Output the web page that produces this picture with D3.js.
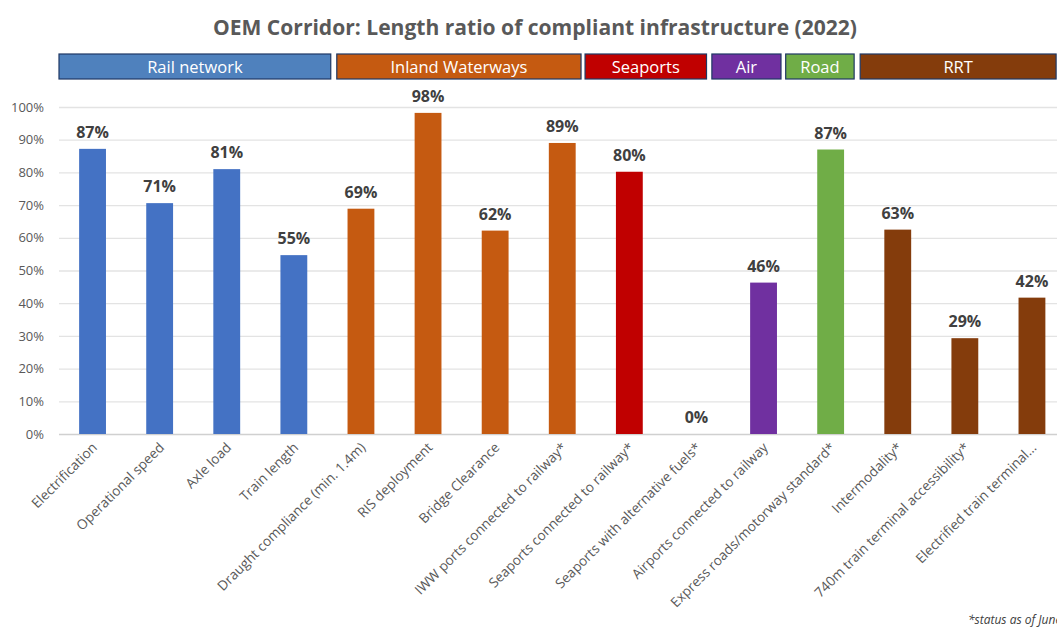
<!DOCTYPE html>
<html>
<head>
<meta charset="utf-8">
<script src="https://cdn.jsdelivr.net/npm/d3@7"></script>
<style>
  body { margin: 0; background: #fff; overflow: hidden; }
  text { font-family: "Open Sans", "Noto Sans", sans-serif; }
</style>
</head>
<body>
<div id="chart"></div>
<script>
// Data
var categories = ["Electrification", "Operational speed", "Axle load", "Train length",
  "Draught compliance (min. 1.4m)", "RIS deployment", "Bridge Clearance",
  "IWW ports connected to railway*", "Seaports connected to railway*",
  "Seaports with alternative fuels*", "Airports connected to railway",
  "Express roads/motorway standard*", "Intermodality*",
  "740m train terminal accessibility*", "Electrified train terminal..."];
var values = [0.872, 0.706, 0.81, 0.547, 0.689, 0.982, 0.622, 0.89, 0.802, 0, 0.463, 0.87, 0.625, 0.293, 0.417];
var categoryGroup = ["Rail network", "Rail network", "Rail network", "Rail network",
  "Inland Waterways", "Inland Waterways", "Inland Waterways", "Inland Waterways",
  "Seaports", "Seaports", "Air", "Road", "RRT", "RRT", "RRT"];
var groups = ["Rail network", "Inland Waterways", "Seaports", "Air", "Road", "RRT"];
var yTicks = [0, 0.1, 0.2, 0.3, 0.4, 0.5, 0.6, 0.7, 0.8, 0.9, 1];

// colours for bars and header boxes
var barColors = ["#4472C4", "#C55A11", "#C00000", "#7030A0", "#70AD47", "#843C0C"];
var boxColors = ["#4F81BD", "#C55A11", "#C00000", "#7030A0", "#70AD47", "#843C0C"];
// header boxes in band units (they are not exactly aligned with the bars)
var boxSpan = [[0.0, 4.05], [4.14, 7.78], [7.84, 9.65], [9.73, 10.76], [10.83, 11.85], [11.94, 14.86]];

var width = 1057, height = 631;
var margin = {left: 59, top: 107};
var plotBottom = 434;

var svg = d3.select("#chart").append("svg")
  .attr("width", width)
  .attr("height", height);

var x = d3.scaleBand()
  .domain(categories)
  .range([margin.left, margin.left + 15 * 67.1])
  .paddingInner(0.6)
  .paddingOuter(0.3);

var xUnit = d3.scaleLinear()
  .domain([0, categories.length])
  .range([margin.left, margin.left + 15 * 67.1]);

var y = d3.scaleLinear()
  .domain([0, 1])
  .range([plotBottom, margin.top]);

var color = d3.scaleOrdinal().domain(groups).range(barColors);
var boxColor = d3.scaleOrdinal().domain(groups).range(boxColors);
var pct = d3.format(".0%");

// Title
svg.append("text")
  .attr("x", 535)
  .attr("y", 35)
  .attr("text-anchor", "middle")
  .attr("textLength", 644)
  .attr("lengthAdjust", "spacingAndGlyphs")
  .style("font-size", "22px")
  .style("font-weight", "bold")
  .style("fill", "#595959")
  .text("OEM Corridor: Length ratio of compliant infrastructure (2022)");

// Header boxes
var boxes = svg.append("g").selectAll("g")
  .data(groups)
  .enter()
  .append("g");

boxes.append("rect")
  .attr("x", function(d, i) { return xUnit(boxSpan[i][0]); })
  .attr("y", 54)
  .attr("width", function(d, i) { return xUnit(boxSpan[i][1]) - xUnit(boxSpan[i][0]); })
  .attr("height", 25)
  .attr("fill", function(d) { return boxColor(d); })
  .attr("stroke", "#1F3864")
  .attr("stroke-width", 1.2);

boxes.append("text")
  .attr("x", function(d, i) { return (xUnit(boxSpan[i][0]) + xUnit(boxSpan[i][1])) / 2; })
  .attr("y", 72.5)
  .attr("text-anchor", "middle")
  .style("font-size", "16.5px")
  .style("fill", "#fff")
  .text(function(d) { return d; });

// Gridlines and y axis
var yAxis = d3.axisLeft(y)
  .tickValues(yTicks)
  .tickFormat(pct)
  .tickSize(-(width - margin.left))
  .tickPadding(15);

var gy = svg.append("g")
  .attr("transform", "translate(" + margin.left + ",0)")
  .call(yAxis);
gy.select(".domain").remove();
gy.selectAll(".tick line")
  .attr("stroke", function(d) { return d === 0 ? "#d0d0d0" : "#e3e3e3"; })
  .attr("stroke-width", 1.3);
gy.selectAll(".tick text")
  .style("font-size", "13px")
  .style("fill", "#595959")
  .style("font-family", "'Open Sans', sans-serif");

// Bars
svg.append("g")
  .selectAll("rect")
  .data(values)
  .enter()
  .append("rect")
    .attr("x", function(d, i) { return x(categories[i]); })
    .attr("y", function(d) { return y(d); })
    .attr("width", x.bandwidth())
    .attr("height", function(d) { return plotBottom - y(d); })
    .attr("fill", function(d, i) { return color(categoryGroup[i]); });

// Value labels
svg.append("g")
  .selectAll("text")
  .data(values)
  .enter()
  .append("text")
    .attr("x", function(d, i) { return x(categories[i]) + x.bandwidth() / 2; })
    .attr("y", function(d) { return y(d) - 11; })
    .attr("text-anchor", "middle")
    .style("font-size", "16px")
    .style("font-weight", "bold")
    .style("fill", "#404040")
    .text(function(d) { return pct(d); });

// Category labels
svg.append("g")
  .selectAll("text")
  .data(categories)
  .enter()
  .append("text")
    .attr("transform", function(d) {
      return "translate(" + (x(d) + x.bandwidth() / 2 + 2) + "," + (plotBottom + 11) + ") rotate(-45)";
    })
    .attr("text-anchor", "end")
    .attr("dy", "0.35em")
    .style("font-size", "13.6px")
    .style("fill", "#595959")
    .text(function(d) { return d; });

// Footnote (cut off at the right edge, as in the source)
svg.append("text")
  .attr("x", 968)
  .attr("y", 624)
  .style("font-size", "12px")
  .style("font-style", "italic")
  .style("fill", "#404040")
  .text("*status as of June 2022");
</script>
</body>
</html>
